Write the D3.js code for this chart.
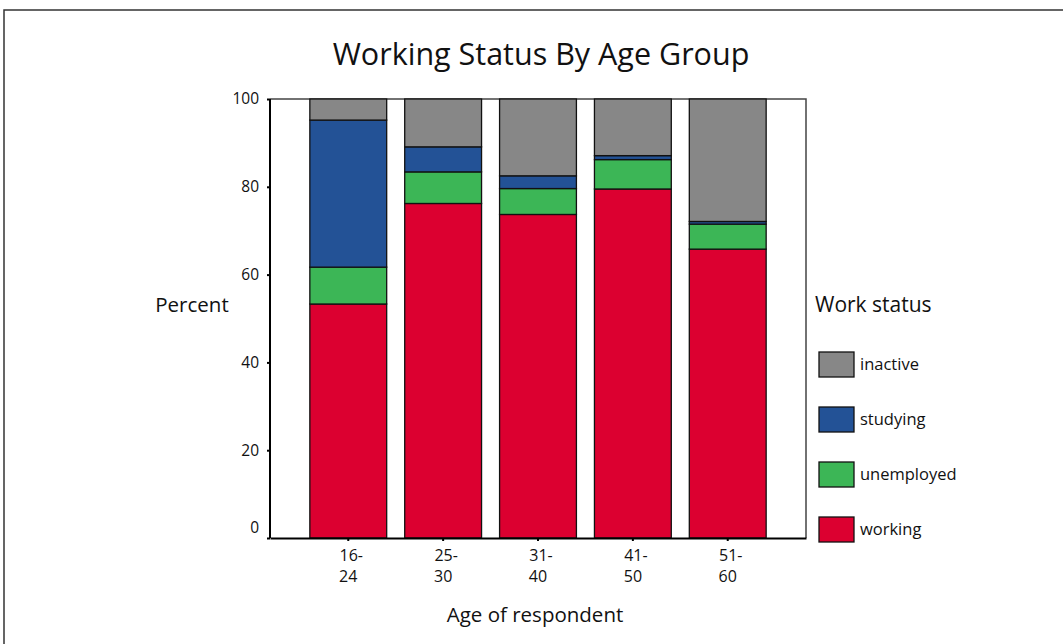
<!DOCTYPE html>
<html>
<head>
<meta charset="utf-8">
<script src="https://cdn.jsdelivr.net/npm/d3@7"></script>
<style>
  body { margin: 0; background: #fff; }
  text { font-family: "Open Sans", sans-serif; fill: #111; }
</style>
</head>
<body>
<svg id="chart" width="1063" height="644"></svg>
<script>
// age groups and stacked percentages (bottom to top)
const ageGroups = ["16-24", "25-30", "31-40", "41-50", "51-60"];
const working    = [53.3, 76.2, 73.7, 79.5, 65.8];
const unemployed = [8.4, 7.2, 5.9, 6.7, 5.7];
const studying   = [33.5, 5.7, 2.9, 0.9, 0.6];
const inactive   = [4.8, 10.9, 17.5, 12.9, 27.9];
const keys = ["working", "unemployed", "studying", "inactive"];
const yTicks = [0, 20, 40, 60, 80, 100];

var colors = {working: "#dc0030", unemployed: "#3cb656", studying: "#235296", inactive: "#878787"};

var data = ageGroups.map((g, i) => ({
  group: g,
  working: working[i],
  unemployed: unemployed[i],
  studying: studying[i],
  inactive: inactive[i]
}));

var svg = d3.select("#chart"),
  margin = {top: 99, left: 270, right: 806, bottom: 538};

// outer frame
svg.append("rect")
  .attr("x", 4).attr("y", 10)
  .attr("width", 1070).attr("height", 650)
  .attr("fill", "none")
  .attr("stroke", "#333")
  .attr("stroke-width", 1.5);

var xScale = d3.scaleBand()
  .domain(ageGroups)
  .range([margin.left, margin.right])
  .paddingInner(0.19)
  .paddingOuter(0.42);

var yScale = d3.scaleLinear()
  .domain([0, 100])
  .range([margin.bottom, margin.top]);

// top and right frame of plot
svg.append("path")
  .attr("d", `M${margin.left},${margin.top}H${margin.right}V${margin.bottom}`)
  .attr("fill", "none")
  .attr("stroke", "#444")
  .attr("stroke-width", 1.5);

var stacked = d3.stack().keys(keys)(data);

svg.selectAll("g.layer")
  .data(stacked)
  .enter()
  .append("g")
  .attr("class", "layer")
  .attr("fill", d => colors[d.key])
  .selectAll("rect")
  .data(d => d)
  .enter()
  .append("rect")
  .attr("x", d => xScale(d.data.group))
  .attr("width", xScale.bandwidth())
  .attr("y", d => yScale(d[1]))
  .attr("height", d => yScale(d[0]) - yScale(d[1]))
  .attr("stroke", "#111")
  .attr("stroke-width", 1.3);

// y axis
var yAxis = svg.append("g")
  .attr("transform", `translate(${margin.left},0)`)
  .call(d3.axisLeft(yScale).tickValues(yTicks).tickSize(3).tickPadding(8));
yAxis.select(".domain").attr("stroke", "#000").attr("stroke-width", 2)
  .attr("d", `M0,${margin.bottom}V${margin.top}`);
yAxis.selectAll(".tick line").attr("stroke", "#000").attr("stroke-width", 2);
yAxis.selectAll(".tick text")
  .attr("font-size", 15.5)
  .attr("font-family", "Open Sans")
  .attr("fill", "#111")
  .attr("dy", d => d == 0 ? "-0.35em" : "0.32em");

// x axis
var xAxis = svg.append("g")
  .attr("transform", `translate(0,${margin.bottom})`)
  .call(d3.axisBottom(xScale).tickSize(3).tickSizeOuter(0).tickPadding(6));
xAxis.select(".domain").attr("stroke", "#000").attr("stroke-width", 2);
xAxis.selectAll(".tick line").attr("stroke", "#000").attr("stroke-width", 2);
xAxis.selectAll(".tick text").remove();
xAxis.selectAll(".tick").each(function(d) {
  var parts = d.split("-");
  var t = d3.select(this).append("text")
    .attr("font-size", 16)
    .attr("font-family", "Open Sans")
    .attr("fill", "#111")
    .attr("text-anchor", "middle");
  t.append("tspan").attr("x", 3).attr("y", 23).text(parts[0] + "-");
  t.append("tspan").attr("x", 0).attr("y", 44).text(parts[1]);
});

// title
svg.append("text")
  .attr("x", 541)
  .attr("y", 65)
  .attr("text-anchor", "middle")
  .attr("font-size", "30.5px")
  .text("Working Status By Age Group");

// axis titles
svg.append("text")
  .attr("x", 192)
  .attr("y", 312)
  .attr("text-anchor", "middle")
  .attr("font-size", "20.5px")
  .text("Percent");

svg.append("text")
  .attr("x", 535)
  .attr("y", 622)
  .attr("text-anchor", "middle")
  .attr("font-size", "20.5px")
  .text("Age of respondent");

// legend
const legend = svg.append("g")
  .attr("class", "legend");

legend.append("text")
  .attr("x", 815)
  .attr("y", 312)
  .attr("font-size", "21px")
  .text("Work status");

keys.slice().reverse().forEach((k, i) => {
  legend.append("rect")
    .attr("x", 819)
    .attr("y", 352 + i * 55)
    .attr("width", 35)
    .attr("height", 25)
    .attr("fill", colors[k])
    .attr("stroke", "#111")
    .attr("stroke-width", 1.3);
  legend.append("text")
    .attr("x", 860)
    .attr("y", 370 + i * 55)
    .attr("font-size", "16.5px")
    .text(k);
});
</script>
</body>
</html>
